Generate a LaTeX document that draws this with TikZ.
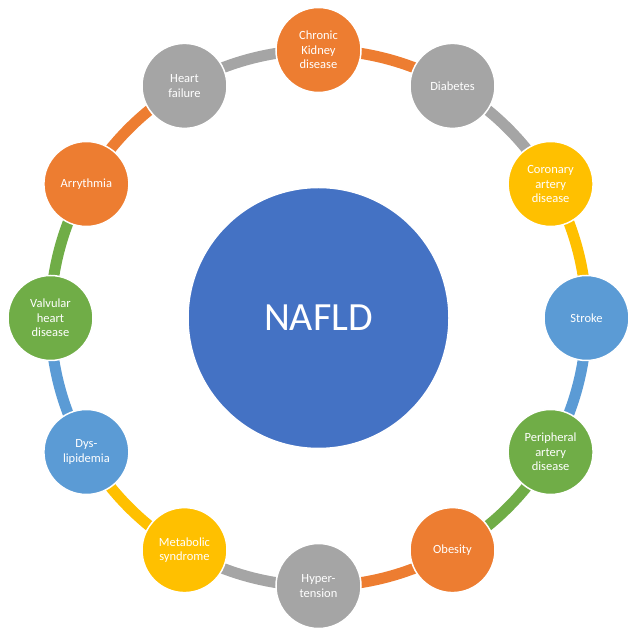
\documentclass[tikz,border=0pt]{standalone}
\usepackage{fontspec}
\setmainfont{Carlito}
\usetikzlibrary{backgrounds}
\definecolor{cOrange}{HTML}{ED7D31}
\definecolor{cGray}{HTML}{A5A5A5}
\definecolor{cYellow}{HTML}{FFC000}
\definecolor{cBlue}{HTML}{5B9BD5}
\definecolor{cGreen}{HTML}{70AD47}
\definecolor{cNavy}{HTML}{4472C4}
\tikzset{
  ringnode/.style={circle, minimum size=85pt, inner sep=0pt, draw=white, line width=1.5pt,
    text=white, align=center, font=\fontsize{12.5}{14.7}\selectfont},
  hubnode/.style={circle, minimum size=261pt, inner sep=0pt, draw=white, line width=1.5pt,
    fill=cNavy, text=white, font=\fontsize{40}{48}\selectfont},
  arcline/.style={line width=11pt}
}
\begin{document}
\begin{tikzpicture}[x=1pt,y=1pt]
\useasboundingbox (-318.5,-318) rectangle (320.5,318);
\node[hubnode] (hub) at (0,0) {NAFLD};
\node[ringnode, fill=cOrange] (n1) at (90:268) {Chronic\\Kidney\\disease};
\node[ringnode, fill=cGray] (n2) at (60:268) {Diabetes};
\node[ringnode, fill=cYellow] (n3) at (30:268) {Coronary\\artery\\disease};
\node[ringnode, fill=cBlue] (n4) at (0:268) {Stroke};
\node[ringnode, fill=cGreen] (n5) at (-30:268) {Peripheral\\artery\\disease};
\node[ringnode, fill=cOrange] (n6) at (-60:268) {Obesity};
\node[ringnode, fill=cGray] (n7) at (-90:268) {Hyper-\\tension};
\node[ringnode, fill=cYellow] (n8) at (-120:268) {Metabolic\\syndrome};
\node[ringnode, fill=cBlue] (n9) at (-150:268) {Dys-\\lipidemia};
\node[ringnode, fill=cGreen] (n10) at (180:268) {Valvular\\heart\\disease};
\node[ringnode, fill=cOrange] (n11) at (150:268) {Arrythmia};
\node[ringnode, fill=cGray] (n12) at (120:268) {Heart\\failure};
\begin{pgfonlayer}{background}
\draw[arcline, cOrange] (n1.center) arc[start angle=90, end angle=60, radius=268];
\draw[arcline, cGray] (n2.center) arc[start angle=60, end angle=30, radius=268];
\draw[arcline, cYellow] (n3.center) arc[start angle=30, end angle=0, radius=268];
\draw[arcline, cBlue] (n4.center) arc[start angle=0, end angle=-30, radius=268];
\draw[arcline, cGreen] (n5.center) arc[start angle=-30, end angle=-60, radius=268];
\draw[arcline, cOrange] (n6.center) arc[start angle=-60, end angle=-90, radius=268];
\draw[arcline, cGray] (n7.center) arc[start angle=-90, end angle=-120, radius=268];
\draw[arcline, cYellow] (n8.center) arc[start angle=-120, end angle=-150, radius=268];
\draw[arcline, cBlue] (n9.center) arc[start angle=-150, end angle=-180, radius=268];
\draw[arcline, cGreen] (n10.center) arc[start angle=180, end angle=150, radius=268];
\draw[arcline, cOrange] (n11.center) arc[start angle=150, end angle=120, radius=268];
\draw[arcline, cGray] (n12.center) arc[start angle=120, end angle=90, radius=268];
\end{pgfonlayer}
\end{tikzpicture}
\end{document}
